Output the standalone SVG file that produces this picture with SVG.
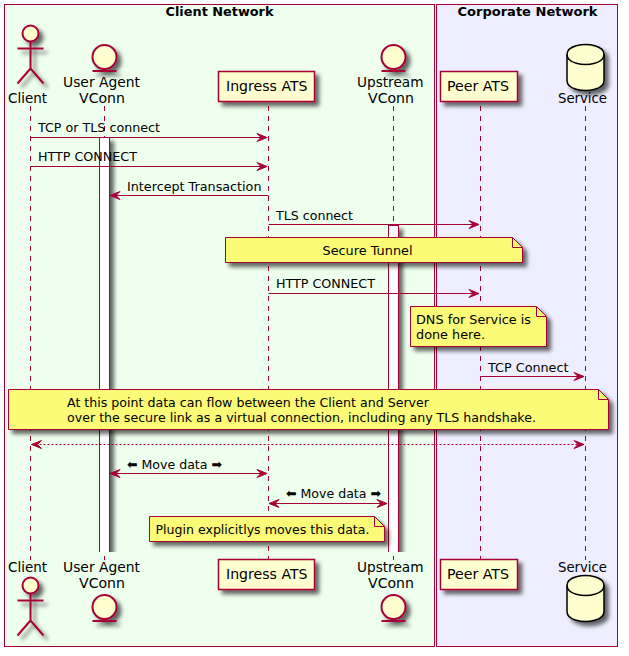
<svg xmlns="http://www.w3.org/2000/svg" width="629" height="656" viewBox="0 0 629 656">
<style>
text{font-family:"DejaVu Sans",sans-serif;fill:#000}
.t{font-size:14px}
.m{font-size:13px}
.b{font-size:13px;font-weight:bold}
.l{stroke:#A80036;stroke-width:1;stroke-dasharray:5,5;fill:none}
.s{stroke:#A80036;stroke-width:1;fill:none}
.d{stroke:#A80036;stroke-width:1;fill:none;stroke-dasharray:2,2}
.h{fill:#A80036;stroke:#A80036;stroke-width:1}
.n{fill:#FBFB77;stroke:#A80036;stroke-width:1}
.nf{fill:none;stroke:#A80036;stroke-width:1}
.p{fill:#FEFECE;stroke:#A80036;stroke-width:1.5}
.e{fill:#FEFECE;stroke:#A80036;stroke-width:2}
.e2{fill:none;stroke:#A80036;stroke-width:2}
.db{fill:#FEFECE;stroke:#000;stroke-width:1.5}
.db2{fill:none;stroke:#000;stroke-width:1.5}
.a{fill:#fff;stroke:#A80036;stroke-width:1}
</style>
<defs>
<filter id="sh" x="-30%" y="-30%" width="170%" height="170%">
<feGaussianBlur in="SourceAlpha" stdDeviation="2" result="b"/>
<feOffset in="b" dx="4" dy="4" result="o"/>
<feComponentTransfer in="o" result="c"><feFuncA type="linear" slope="0.6"/></feComponentTransfer>
<feMerge><feMergeNode in="c"/><feMergeNode in="SourceGraphic"/></feMerge>
</filter>
<clipPath id="cut"><rect x="0" y="0" width="629" height="552"/></clipPath>
<polygon id="ar" class="h" points="0,0 -10,-4 -6,0 -10,4"/>
<polygon id="al" class="h" points="0,0 10,-4 6,0 10,4"/>
<g id="actor" filter="url(#sh)"><circle class="e" cx="0" cy="0" r="8"/><path class="e2" d="M0,8V35M-13,15H13M0,35L-13,50M0,35L13,50"/></g>
<g id="entity" filter="url(#sh)"><circle class="e" cx="0" cy="0" r="12"/><path class="e2" d="M-12,14H12"/></g>
<g id="db" filter="url(#sh)"><path class="db" d="M-18.500,10C-18.500,0 0,0 0,0C0,0 18.500,0 18.500,10L18.500,36C18.500,46 0,46 0,46C0,46 -18.500,46 -18.500,36Z"/><path class="db2" d="M-18.500,10C-18.500,20 0,20 0,20C0,20 18.500,20 18.500,10"/></g>
</defs>
<rect width="629" height="656" fill="#fff"/>
<g id="box-client"><rect x="4.500" y="4.500" width="430" height="642" fill="#EEFFEE" stroke="#A80036"/><text class="b" x="165.500" y="16" textLength="108" lengthAdjust="spacingAndGlyphs">Client Network</text></g>
<g id="box-corporate"><rect x="436.500" y="4.500" width="181" height="642" fill="#EEEEFF" stroke="#A80036"/><text class="b" x="457.500" y="16" textLength="140" lengthAdjust="spacingAndGlyphs">Corporate Network</text></g>
<g id="lifelines">
<path class="l" d="M30.500,106V560"/><path class="l" d="M104.500,106V560"/><path class="l" d="M268.500,106V560"/><path class="l" d="M393.500,106V560"/><path class="l" d="M480.500,106V560"/><path class="l" d="M585.500,106V560"/>
</g>
<g id="activations" clip-path="url(#cut)"><g filter="url(#sh)">
<rect class="a" x="99.500" y="137.500" width="10" height="430"/>
<rect class="a" x="388.500" y="225.500" width="10" height="342"/>
</g></g>
<g id="connectors">
<path class="s" d="M30.500,137.500H267"/><use href="#ar" x="267" y="137.500"/>
<path class="s" d="M30.500,166.500H267"/><use href="#ar" x="267" y="166.500"/>
<path class="s" d="M110,195.500H268.500"/><use href="#al" x="110" y="195.500"/>
<path class="s" d="M268.500,224.500H479"/><use href="#ar" x="479" y="224.500"/>
<path class="s" d="M268.500,293.500H479"/><use href="#ar" x="479" y="293.500"/>
<path class="s" d="M480.500,376.500H584"/><use href="#ar" x="584" y="376.500"/>
<path class="d" d="M31.500,444.500H584"/><use href="#al" x="31.500" y="444.500"/><use href="#ar" x="584" y="444.500"/>
<path class="s" d="M110,473.500H267"/><use href="#al" x="110" y="473.500"/><use href="#ar" x="267" y="473.500"/>
<path class="s" d="M269,503.500H387"/><use href="#al" x="269" y="503.500"/><use href="#ar" x="387" y="503.500"/>
<text class="m" x="38" y="132" textLength="122" lengthAdjust="spacingAndGlyphs">TCP or TLS connect</text>
<text class="m" x="38" y="161" textLength="99" lengthAdjust="spacingAndGlyphs">HTTP CONNECT</text>
<text class="m" x="127" y="191" textLength="134.500" lengthAdjust="spacingAndGlyphs">Intercept Transaction</text>
<text class="m" x="276" y="220" textLength="77" lengthAdjust="spacingAndGlyphs">TLS connect</text>
<text class="m" x="276" y="288" textLength="99" lengthAdjust="spacingAndGlyphs">HTTP CONNECT</text>
<text class="m" x="488" y="372" textLength="80.500" lengthAdjust="spacingAndGlyphs">TCP Connect</text>
<text class="m" x="127" y="469" textLength="95" lengthAdjust="spacingAndGlyphs">⬅ Move data ➡</text>
<text class="m" x="286" y="498" textLength="95" lengthAdjust="spacingAndGlyphs">⬅ Move data ➡</text>
</g>
<g id="note-tunnel"><path class="n" filter="url(#sh)" d="M225.500,237.500H512.500L522.500,247.500V262.500H225.500Z"/><path class="nf" d="M512.500,237.500V247.500H522.500"/><text class="m" x="322.500" y="254.500" textLength="90" lengthAdjust="spacingAndGlyphs">Secure Tunnel</text></g>
<g id="note-dns"><path class="n" filter="url(#sh)" d="M410.500,306.500H536.500L546.500,316.500V346.500H410.500Z"/><path class="nf" d="M536.500,306.500V316.500H546.500"/><text class="m" x="416" y="323.500" textLength="115" lengthAdjust="spacingAndGlyphs">DNS for Service is</text><text class="m" x="416" y="338.500" textLength="69" lengthAdjust="spacingAndGlyphs">done here.</text></g>
<g id="note-flow"><path class="n" filter="url(#sh)" d="M8.500,389.500H598.500L608.500,399.500V429.500H8.500Z"/><path class="nf" d="M598.500,389.500V399.500H608.500"/><text class="m" x="67" y="406.500" textLength="362" lengthAdjust="spacingAndGlyphs">At this point data can flow between the Client and Server</text><text class="m" x="67" y="421.500" textLength="469" lengthAdjust="spacingAndGlyphs">over the secure link as a virtual connection, including any TLS handshake.</text></g>
<g id="note-plugin"><path class="n" filter="url(#sh)" d="M149.500,516.500H374.500L384.500,526.500V541.500H149.500Z"/><path class="nf" d="M374.500,516.500V526.500H384.500"/><text class="m" x="155.500" y="533.500" textLength="214" lengthAdjust="spacingAndGlyphs">Plugin explicitlys moves this data.</text></g>
<g id="client"><use href="#actor" x="30.500" y="33.500"/><text class="t" x="8" y="103" textLength="39" lengthAdjust="spacingAndGlyphs">Client</text><use href="#actor" x="30.500" y="585.500"/><text class="t" x="8" y="572" textLength="39" lengthAdjust="spacingAndGlyphs">Client</text></g>
<g id="useragent"><use href="#entity" x="104.500" y="57"/><text class="t" x="63" y="87" textLength="77" lengthAdjust="spacingAndGlyphs">User Agent</text><text class="t" x="79" y="103" textLength="46" lengthAdjust="spacingAndGlyphs">VConn</text><use href="#entity" x="104.500" y="607"/><text class="t" x="63" y="572" textLength="77" lengthAdjust="spacingAndGlyphs">User Agent</text><text class="t" x="79" y="588" textLength="46" lengthAdjust="spacingAndGlyphs">VConn</text></g>
<g id="ingress"><rect class="p" filter="url(#sh)" x="218.500" y="71.500" width="96" height="30"/><text class="t" x="226" y="91" textLength="81.500" lengthAdjust="spacingAndGlyphs">Ingress ATS</text><rect class="p" filter="url(#sh)" x="218.500" y="559.500" width="96" height="30"/><text class="t" x="226" y="579" textLength="81.500" lengthAdjust="spacingAndGlyphs">Ingress ATS</text></g>
<g id="upstream"><use href="#entity" x="393.500" y="57"/><text class="t" x="357" y="87" textLength="66.500" lengthAdjust="spacingAndGlyphs">Upstream</text><text class="t" x="368" y="103" textLength="46" lengthAdjust="spacingAndGlyphs">VConn</text><use href="#entity" x="393.500" y="607"/><text class="t" x="357" y="572" textLength="66.500" lengthAdjust="spacingAndGlyphs">Upstream</text><text class="t" x="368" y="588" textLength="46" lengthAdjust="spacingAndGlyphs">VConn</text></g>
<g id="peer"><rect class="p" filter="url(#sh)" x="440.500" y="71.500" width="77" height="30"/><text class="t" x="447" y="91" textLength="62" lengthAdjust="spacingAndGlyphs">Peer ATS</text><rect class="p" filter="url(#sh)" x="440.500" y="559.500" width="77" height="30"/><text class="t" x="447" y="579" textLength="62" lengthAdjust="spacingAndGlyphs">Peer ATS</text></g>
<g id="service"><use href="#db" x="585.500" y="44.500"/><text class="t" x="558" y="103" textLength="49" lengthAdjust="spacingAndGlyphs">Service</text><use href="#db" x="585.500" y="575.500"/><text class="t" x="558" y="572" textLength="49" lengthAdjust="spacingAndGlyphs">Service</text></g>
</svg>
